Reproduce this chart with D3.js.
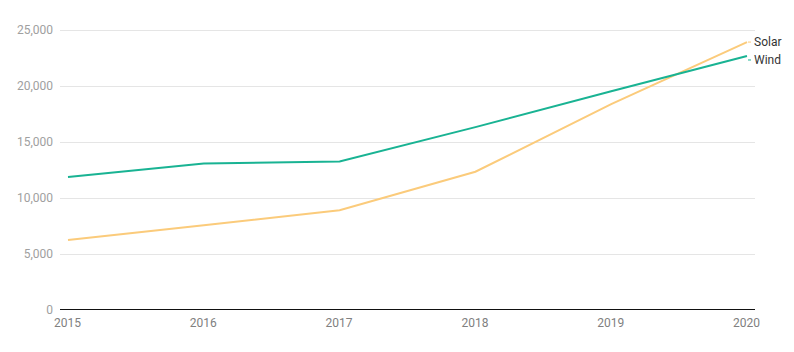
<!DOCTYPE html>
<html>
<head>
<meta charset="utf-8">
<script src="https://cdnjs.cloudflare.com/ajax/libs/d3/7.8.5/d3.min.js"></script>
<style>
  body { margin: 0; background: #fff; font-family: Roboto, "Noto Sans", sans-serif; }
  svg text { font-family: Roboto, "Noto Sans", sans-serif; }
</style>
</head>
<body>
<svg id="chart" width="794" height="352"></svg>
<script>
var years = [2015, 2016, 2017, 2018, 2019, 2020];
var wind = [11850, 13050, 13230, 16300, 19500, 22640];
var solar = [6230, 7550, 8900, 12320, 18350, 23880];
var yTicks = [0, 5000, 10000, 15000, 20000, 25000];

var svg = d3.select("#chart");

var x = d3.scaleLinear().domain([2015, 2020]).range([68, 747]);
var y = d3.scaleLinear().domain([0, 25000]).range([310, 29.5]);

// gridlines
svg.append("g")
  .selectAll("line")
  .data(yTicks.slice(1))
  .enter()
  .append("line")
  .attr("x1", 60)
  .attr("x2", 755)
  .attr("y1", function(d) { return Math.round(y(d)) + 0.5; })
  .attr("y2", function(d) { return Math.round(y(d)) + 0.5; })
  .style("stroke", "#e5e5e5")
  .style("stroke-width", 1);

// y labels
svg.append("g")
  .selectAll("text")
  .data(yTicks)
  .enter()
  .append("text")
  .attr("x", 53)
  .attr("y", function(d) { return y(d) + 4; })
  .attr("text-anchor", "end")
  .style("font-size", "12px")
  .style("fill", "#a0a0a0")
  .text(function(d) { return d3.format(",")(d); });

// x axis baseline
svg.append("line")
  .attr("x1", 60)
  .attr("x2", 755)
  .attr("y1", 309.5)
  .attr("y2", 309.5)
  .style("stroke", "#111")
  .style("stroke-width", 1.2);

// x labels
svg.append("g")
  .selectAll("text")
  .data(years)
  .enter()
  .append("text")
  .attr("x", function(d) { return x(d) - 0.5; })
  .attr("y", 327)
  .attr("text-anchor", "middle")
  .style("font-size", "12px")
  .style("fill", "#808080")
  .text(function(d) { return d; });

var line = d3.line()
  .x(function(d, i) { return x(years[i]); })
  .y(function(d) { return y(d); });

svg.append("path")
  .datum(solar)
  .attr("d", line)
  .style("fill", "none")
  .style("stroke", "#fbcb7b")
  .style("stroke-width", 2);

svg.append("path")
  .datum(wind)
  .attr("d", line)
  .style("fill", "none")
  .style("stroke", "#19b393")
  .style("stroke-width", 2);

// direct labels
var labels = [
  { name: "Solar", value: solar[solar.length - 1], color: "#fbcb7b", dy: 0 },
  { name: "Wind", value: wind[wind.length - 1], color: "#19b393", dy: 4 }
];

labels.forEach(function(l) {
  var ly = y(l.value) + l.dy;
  svg.append("line")
    .attr("x1", x(2020) + 1)
    .attr("x2", x(2020) + 4)
    .attr("y1", ly)
    .attr("y2", ly)
    .style("stroke", l.color)
    .style("stroke-width", 1);
  svg.append("text")
    .attr("x", x(2020) + 7)
    .attr("y", ly + 4)
    .style("font-size", "12px")
    .style("fill", "#333")
    .text(l.name);
});
</script>
</body>
</html>
